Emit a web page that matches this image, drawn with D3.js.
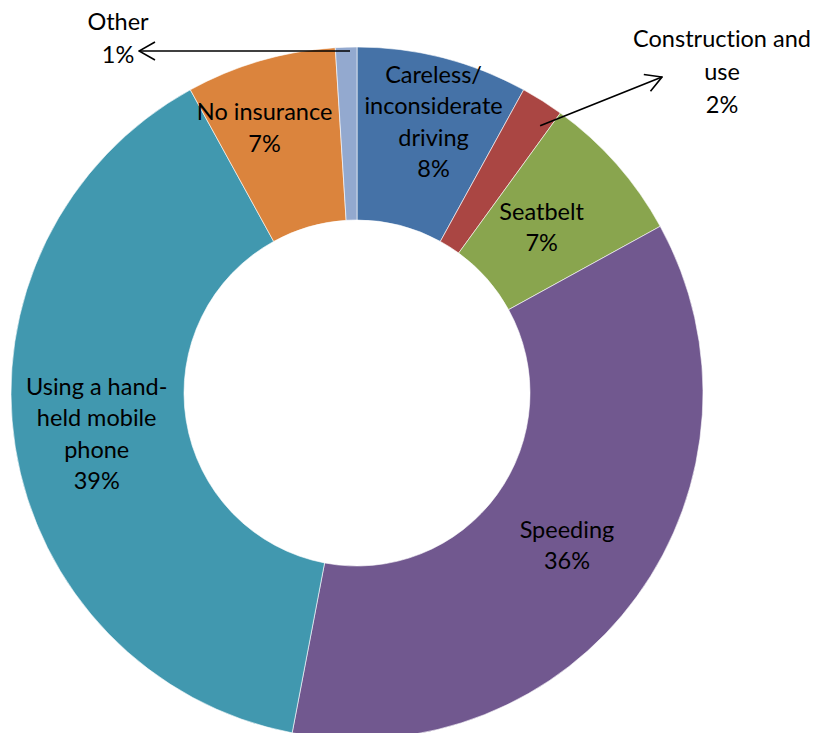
<!DOCTYPE html>
<html>
<head>
<meta charset="utf-8">
<script src="https://cdn.jsdelivr.net/npm/d3@7/dist/d3.min.js"></script>
<style>
  html, body { margin: 0; padding: 0; background: #fff; }
  svg { display: block; }
  text { font-family: Lato, "Liberation Sans", sans-serif; font-size: 23.5px; fill: #000;
         font-variant-ligatures: none; font-feature-settings: "liga" 0; }
</style>
</head>
<body>
<svg id="chart" width="815" height="733"></svg>
<script>
// Offence categories, clockwise from 12 o'clock
const categories = [
  "Careless/ inconsiderate driving",
  "Construction and use",
  "Seatbelt",
  "Speeding",
  "Using a hand-held mobile phone",
  "No insurance",
  "Other"
];
const shares = [8, 2, 7, 36, 39, 7, 1];
const labelLines = [
  ["Careless/", "inconsiderate", "driving"],
  ["Construction and", "use"],
  ["Seatbelt"],
  ["Speeding"],
  ["Using a hand-", "held mobile", "phone"],
  ["No insurance"],
  ["Other"]
];
const colors = ["#4572A7", "#AA4643", "#89A54E", "#71588F", "#4198AF", "#DB843D", "#93A9CF"];

const data = categories.map((c, i) => ({ name: c, value: shares[i], lines: labelLines[i], color: colors[i] }));

const svg = d3.select("#chart");
const cx = 357, cy = 393, outerR = 346, innerR = 173;
const g = svg.append("g").attr("transform", `translate(${cx},${cy})`);

const pie = d3.pie().value(d => d.value).sort(null);
const arc = d3.arc().innerRadius(innerR).outerRadius(outerR);
const arcs = pie(data);

g.selectAll("path.slice")
  .data(arcs)
  .join("path")
  .attr("class", "slice")
  .attr("d", arc)
  .attr("fill", d => d.data.color)
  .attr("stroke", "#fff")
  .attr("stroke-width", 0.6);

const lineH = 31.5;
const pct = v => d3.format(".0f")(v) + "%";

// Labels sitting on the ring, at the centroid with small nudges
const nudge = { 0: [12, -20], 2: [-10, 6], 3: [0, 0], 4: [-4, 0], 5: [-20, -16] };
arcs.forEach((a, i) => {
  if (!(i in nudge)) return;
  const [x0, y0] = arc.centroid(a);
  const [dx, dy] = nudge[i];
  const lines = a.data.lines.concat([pct(a.data.value)]);
  const t = g.append("text")
    .attr("text-anchor", "middle")
    .attr("transform", `translate(${x0 + dx},${y0 + dy})`);
  lines.forEach((s, k) => {
    t.append("tspan")
      .attr("x", 0)
      .attr("y", (k - (lines.length - 1) / 2) * lineH)
      .attr("dy", "0.35em")
      .text(s);
  });
});

// Callout labels for the two thin slices
const defs = svg.append("defs");
defs.append("marker")
  .attr("id", "arrowOpen")
  .attr("viewBox", "0 0 18 20")
  .attr("refX", 17).attr("refY", 10)
  .attr("markerWidth", 18).attr("markerHeight", 20)
  .attr("markerUnits", "userSpaceOnUse")
  .attr("orient", "auto")
  .append("path")
  .attr("d", "M1,1 L17,10 L1,19")
  .attr("fill", "none")
  .attr("stroke", "#000")
  .attr("stroke-width", 1.6);

// point inside slice a at fraction f of its sweep and radius r
function slicePoint(a, f, r) {
  const ang = a.startAngle + f * (a.endAngle - a.startAngle);
  return [cx + r * Math.sin(ang), cy - r * Math.cos(ang)];
}

const calloutLineH = 33;
function callout(i, from, to, textPos) {
  const a = arcs[i];
  svg.append("line")
    .attr("x1", from[0]).attr("y1", from[1])
    .attr("x2", to[0]).attr("y2", to[1])
    .attr("stroke", "#000").attr("stroke-width", 1.6)
    .attr("marker-end", "url(#arrowOpen)");
  const lines = a.data.lines.concat([pct(a.data.value)]);
  const t = svg.append("text")
    .attr("text-anchor", "middle")
    .attr("transform", `translate(${textPos[0]},${textPos[1]})`);
  lines.forEach((s, k) => {
    t.append("tspan").attr("x", 0).attr("y", k * calloutLineH).text(s);
  });
}

// "Other" arrow runs left, level with the top of its slice
const otherFrom = slicePoint(arcs[6], 0.675, outerR - 4);
callout(6, [otherFrom[0], 51], [139, 51], [118, 30]);

// "Construction and use" arrow points up-right
const consFrom = slicePoint(arcs[1], 0.78, outerR - 22);
callout(1, consFrom, [662, 77], [722, 47]);
</script>
</body>
</html>
